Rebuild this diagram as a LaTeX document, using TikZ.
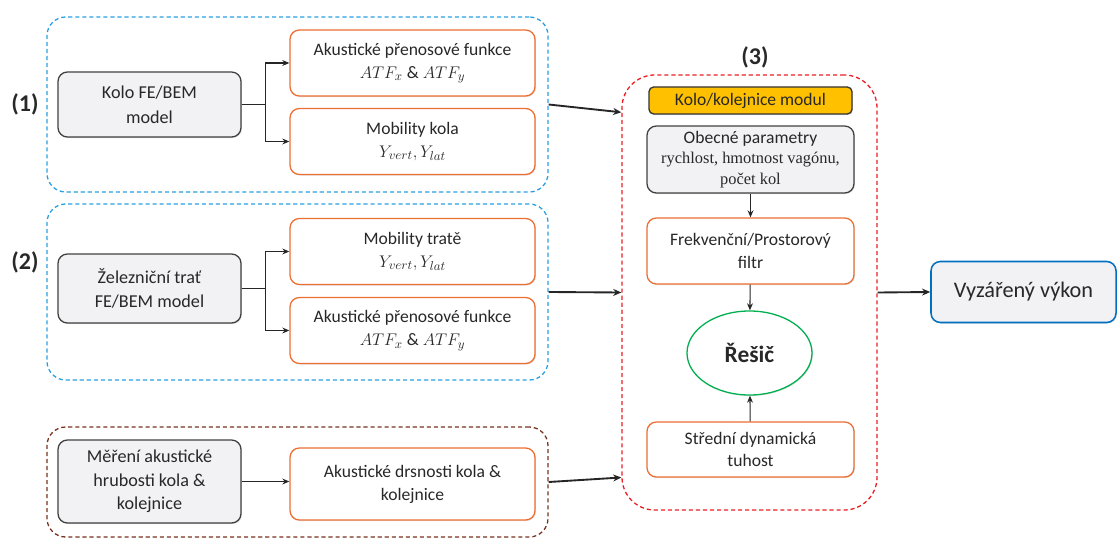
\documentclass[tikz,border=0pt]{standalone}
\usepackage{fontspec}
\setmainfont{Carlito}
\newfontfamily\serif{Liberation Serif}
\usetikzlibrary{arrows.meta,shapes.geometric,shadows,calc}

\definecolor{grpblue}{RGB}{41,160,225}
\definecolor{grpbrown}{RGB}{120,50,30}
\definecolor{grpred}{RGB}{235,30,35}
\definecolor{boxorange}{RGB}{237,110,50}
\definecolor{boxgray}{RGB}{242,242,245}
\definecolor{modyellow}{RGB}{255,192,0}
\definecolor{solvgreen}{RGB}{0,176,80}
\definecolor{outblue}{RGB}{0,112,192}
\definecolor{txt}{RGB}{40,40,40}

\begin{document}
\begin{tikzpicture}[
    x=0.03cm, y=-0.03cm,
    font=\fontsize{15}{19.5}\selectfont, text=txt,
    group/.style={rectangle, draw, line width=1.1pt, dash pattern=on 3.5pt off 2.5pt, rounded corners=16pt},
    shade1/.style={drop shadow={opacity=0.25, shadow xshift=0.8pt, shadow yshift=-0.9pt}},
    model/.style={rectangle, draw=black!75, fill=boxgray, line width=1.1pt, rounded corners=8pt, align=center, minimum width=5.49cm, shade1},
    result/.style={rectangle, draw=boxorange, fill=white, line width=1.1pt, rounded corners=8pt, align=center, minimum width=7.35cm, shade1},
    inner/.style={rectangle, draw=boxorange, fill=white, line width=1.1pt, rounded corners=8pt, align=center, minimum width=6.21cm, shade1},
    tag/.style={font=\fontsize{20.5}{22}\selectfont\bfseries},
    link/.style={line width=1.6pt, black!85, -{Stealth[length=7pt, width=6pt]}},
    step1/.style={line width=0.9pt, black!85, -{Stealth[length=6pt, width=5pt]}}
]
\useasboundingbox (0,0) rectangle (1119,539);

% Skupiny
\node[group, draw=grpblue, minimum width=15.03cm, minimum height=5.25cm] (grp1) at (297.5,104.5) {};
\node[group, draw=grpblue, minimum width=15.03cm, minimum height=5.28cm] (grp2) at (297.5,292) {};
\node[group, draw=grpbrown, minimum width=15.03cm, minimum height=3.3cm] (grp3) at (297.5,482) {};
\node[group, draw=grpred, rounded corners=28pt, minimum width=7.65cm, minimum height=13.05cm] (sys) at (749.5,292.5) {};

% Popisky
\node[tag] (lab1) at (25,104) {(1)};
\node[tag] (lab2) at (25,262) {(2)};
\node[tag] (lab3) at (755,57) {(3)};

% (1) kolo
\node[model, minimum height=1.95cm, font=\fontsize{15.5}{21}\selectfont] (kolo) at (149.5,104.5) {Kolo FE/BEM\\model};
\node[result, minimum height=1.98cm] (atf1) at (412.5,63) {Akustické přenosové funkce\\$ATF_x$ \& $ATF_y$};
\node[result, minimum height=1.98cm] (mob1) at (412.5,141.5) {Mobility kola\\$Y_{vert}, Y_{lat}$};

% (2) trat
\node[model, minimum height=2.07cm, font=\fontsize{15.5}{21}\selectfont] (trat) at (149.5,288.5) {Železniční trať\\FE/BEM model};
\node[result, minimum height=1.98cm] (mob2) at (412.5,251.5) {Mobility tratě\\$Y_{vert}, Y_{lat}$};
\node[result, minimum height=1.98cm] (atf2) at (412.5,330.5) {Akustické přenosové funkce\\$ATF_x$ \& $ATF_y$};

% mereni drsnosti
\node[model, minimum height=2.49cm, font=\fontsize{15.5}{20}\selectfont] (mer) at (149.5,481.5) {Měření akustické\\hrubosti kola \&\\kolejnice};
\node[result, minimum height=2.16cm] (drs) at (412.5,484) {Akustické drsnosti kola \&\\kolejnice};

% (3) modul
\node[rectangle, draw=black!80, fill=modyellow, line width=1.1pt, rounded corners=4pt, minimum width=6.09cm, minimum height=0.81cm, shade1] (modul) at (750.5,100.5) {Kolo/kolejnice modul};
\node[model, minimum width=6.21cm, minimum height=2.01cm, font=\fontsize{15}{17.5}\selectfont] (obec) at (750.5,159.5) {Obecné parametry\\{\serif\fontsize{14}{17.5}\selectfont rychlost, hmotnost vagónu,}\\{\serif\fontsize{14}{17.5}\selectfont počet kol}};
\node[inner, minimum height=1.98cm] (frek) at (750.5,251) {Frekvenční/Prostorový\\filtr};
\node[ellipse, draw=solvgreen, fill=white, line width=1.1pt, minimum width=3.75cm, minimum height=2.52cm, font=\fontsize{20}{22}\selectfont\bfseries, shade1] (resic) at (749.5,353) {Řešič};
\node[inner, minimum height=1.65cm] (stred) at (750.5,449.5) {Střední dynamická\\tuhost};

% vystup
\node[rectangle, draw=outblue, fill=boxgray, line width=1.3pt, rounded corners=8pt, minimum width=5.55cm, minimum height=1.83cm, font=\fontsize{19}{22}\selectfont, shade1] (out) at (1023.5,292) {Vyzářený výkon};

% Spojeni
\draw[step1] (kolo.east) -- ++(24,0) |- (atf1.west);
\draw[step1] (kolo.east) -- ++(24,0) |- (mob1.west);
\draw[step1] (trat.east) -- ++(24,0) |- (mob2.west);
\draw[step1] (trat.east) -- ++(24,0) |- (atf2.west);
\draw[step1] (mer.east) -- (mer.east -| drs.west);
\draw[step1] (obec) -- (frek);
\draw[step1] (frek) -- (resic);
\draw[step1] (stred) -- (resic);

\draw[link] (grp1.east) -- ($(sys.north west)!0.087!(sys.south west)$);
\draw[link] (grp2.east) -- (sys.west);
\draw[link] (grp3.east) -- ($(sys.north west)!0.924!(sys.south west)$);
\draw[link] (sys.east) -- (out.west);

\end{tikzpicture}
\end{document}
